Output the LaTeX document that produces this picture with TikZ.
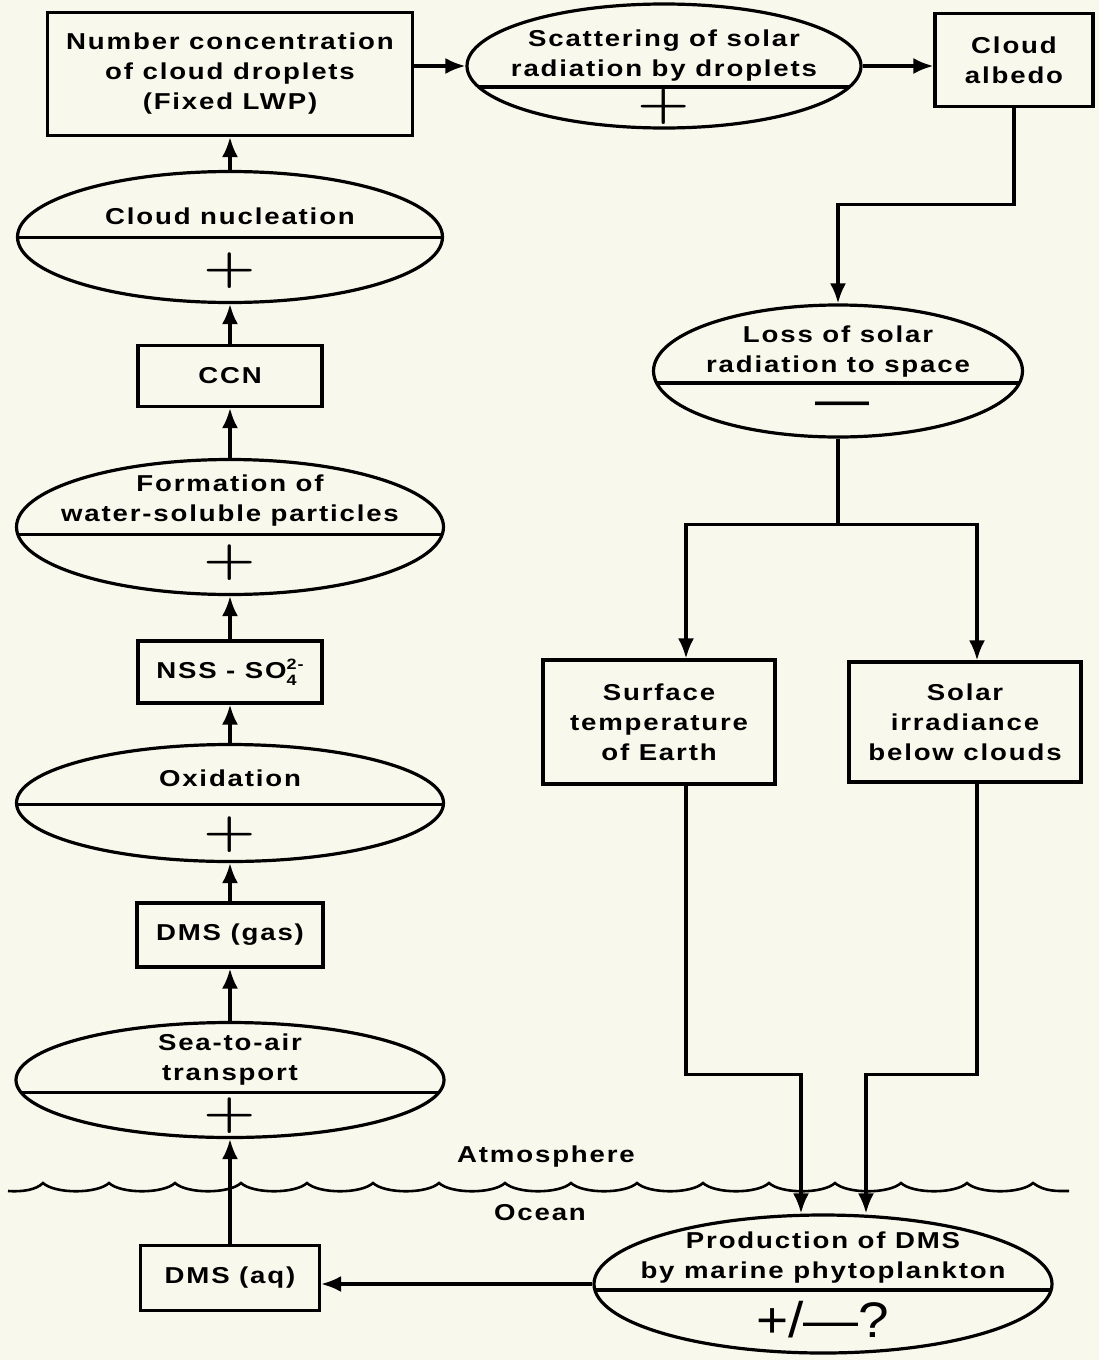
\documentclass[tikz,border=0pt]{standalone}
\usepackage{fontspec}
\usepackage{graphicx}
\setmainfont{Liberation Sans}
\newfontfamily\lblfont{Liberation Sans}[FakeStretch=1.2,LetterSpace=8]
\newfontfamily\signfont{Latin Modern Roman}
\usetikzlibrary{arrows.meta,shapes.geometric}
\definecolor{paper}{RGB}{249,248,236}
\newcommand\plusmark{{\signfont\bfseries\fontsize{50}{50}\selectfont\scalebox{1.2}[0.95]{+}}}
\newcommand\sofour{SO\rlap{\raisebox{-7pt}{\fontsize{15}{15}\selectfont 4}}\raisebox{9pt}{\fontsize{15}{15}\selectfont 2\kern1pt-}}

\begin{document}
\begin{tikzpicture}[x=1pt,y=-1pt]
	\tikzset{lbl/.style = {align=center, inner sep=0pt, font=\lblfont\bfseries\fontsize{23}{30}\selectfont}}
	\tikzset{box/.style = {lbl, shape=rectangle, draw, line width=3.2pt}}
	\tikzset{proc/.style = {shape=ellipse, draw, line width=3.2pt, inner sep=0pt,
		path picture={\draw[line width=3.2pt] ([yshift=-#1]path picture bounding box.north west) -- ([yshift=-#1]path picture bounding box.north east);}}}
	\tikzset{edge/.style = {->, > = {Latex[length=20pt,width=16pt]}, line width=3.2pt}}
	\fill[paper] (0,0) rectangle (1099,1360);
	\useasboundingbox (0,0) rectangle (1099,1360);
	% left column, bottom to top
	\node[box, minimum width=365pt, minimum height=123pt] (numconc) at (230,74) {Number concentration\\of cloud droplets\\(Fixed LWP)};
	\node[proc=66pt, minimum width=425pt, minimum height=131pt] (nucl) at (230,237) {};
	\node[lbl] (nucl-txt) at (230,216) {Cloud nucleation};
	\node[inner sep=0pt] (nucl-sgn) at (230,271) {\plusmark};
	\node[box, minimum width=184pt, minimum height=61pt] (ccn) at (230,376) {CCN};
	\node[proc=75pt, minimum width=427pt, minimum height=135pt] (form) at (230,527) {};
	\node[lbl] (form-txt) at (230,501) {Formation of\\water-soluble particles};
	\node[inner sep=0pt] (form-sgn) at (230,563) {\plusmark};
	\node[box, minimum width=184pt, minimum height=62pt] (nss) at (230,672) {NSS - \sofour};
	\node[proc=60pt, minimum width=427pt, minimum height=117pt] (oxid) at (230,803) {};
	\node[lbl] (oxid-txt) at (230,778) {Oxidation};
	\node[inner sep=0pt] (oxid-sgn) at (230,835) {\plusmark};
	\node[box, minimum width=186pt, minimum height=64pt] (dmsgas) at (230,935) {DMS (gas)};
	\node[proc=70pt, minimum width=428pt, minimum height=115pt] (seaair) at (230,1080) {};
	\node[lbl] (seaair-txt) at (230,1060) {Sea-to-air\\transport};
	\node[inner sep=0pt] (seaair-sgn) at (230,1116) {\plusmark};
	\node[box, minimum width=179pt, minimum height=65pt] (dmsaq) at (230,1278) {DMS (aq)};
	% top row and right column
	\node[proc=83pt, minimum width=394pt, minimum height=124pt] (scat) at (664,66) {};
	\node[lbl] (scat-txt) at (664,56) {Scattering of solar\\radiation by droplets};
	\node[inner sep=0pt] (scat-sgn) at (664,107) {\plusmark};
	\node[box, minimum width=158pt, minimum height=93pt] (albedo) at (1014,60) {Cloud\\albedo};
	\node[proc=78pt, minimum width=369pt, minimum height=132pt] (loss) at (838,371) {};
	\node[lbl] (loss-txt) at (838,352) {Loss of solar\\radiation to space};
	\node[inner sep=0pt] (loss-sgn) at (842,410) {\fontsize{54}{54}\selectfont —};
	\node[box, minimum width=232pt, minimum height=124pt] (surf) at (659,722) {Surface\\temperature\\of Earth};
	\node[box, minimum width=232pt, minimum height=120pt] (solar) at (965,722) {Solar\\irradiance\\below clouds};
	\node[proc=75pt, minimum width=458pt, minimum height=138pt] (prod) at (823,1284) {};
	\node[lbl] (prod-txt) at (823,1258) {Production of DMS\\by marine phytoplankton};
	\node[inner sep=0pt] (prod-sgn) at (823,1320) {\fontsize{50}{50}\selectfont\scalebox{1.1}[1]{+/—?}};
	% sea surface
	\node[lbl] (atmos) at (546,1157) {Atmosphere};
	\node[lbl] (ocean) at (540,1213) {Ocean};
	\draw[line width=2.6pt] (8,1191) .. controls (22,1192) and (36,1190) .. (43,1183)
		\foreach \p in {43,109,...,967} { .. controls (\p+12,1194) and (\p+54,1194) .. (\p+66,1183) }
		.. controls (1045,1192) and (1058,1191) .. (1069,1191);
	% connectors
	\draw[edge] (nucl.north) -- (numconc.south);
	\draw[edge] (ccn.north) -- (nucl.south);
	\draw[edge] (form.north) -- (ccn.south);
	\draw[edge] (nss.north) -- (form.south);
	\draw[edge] (oxid.north) -- (nss.south);
	\draw[edge] (dmsgas.north) -- (oxid.south);
	\draw[edge] (seaair.north) -- (dmsgas.south);
	\draw[edge] (dmsaq.north) -- (seaair.south);
	\draw[edge] (numconc.east |- scat.west) -- (scat.west);
	\draw[edge] (scat.east) -- (scat.east -| albedo.west);
	\draw[edge] (albedo.south) -- ++(0,96) -| (loss.north);
	\draw[line width=3.2pt] (loss.south) -- ++(0,86) coordinate (split);
	\draw[edge] (split) -| ([xshift=27pt]surf.north);
	\draw[edge] (split) -| ([xshift=12pt]solar.north);
	\draw[edge] ([xshift=27pt]surf.south) -- ++(0,289) -| ([xshift=-22pt]prod.north);
	\draw[edge] ([xshift=12pt]solar.south) -- ++(0,291) -| ([xshift=43pt]prod.north);
	\draw[edge] (prod.west) -- (prod.west -| dmsaq.east);
\end{tikzpicture}
\end{document}
